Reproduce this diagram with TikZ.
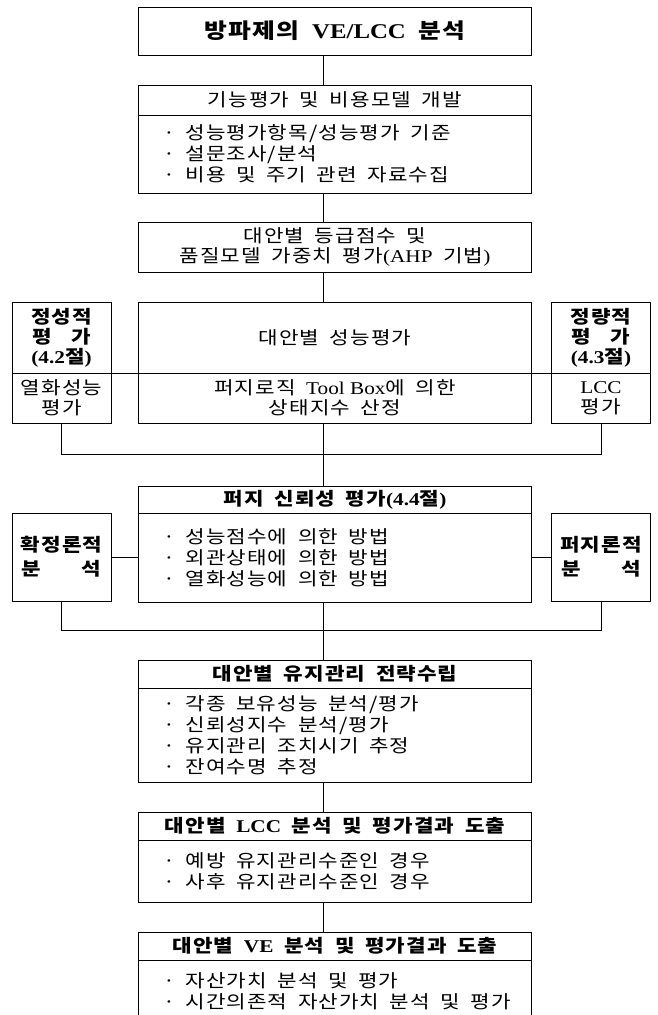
\documentclass[tikz,border=0pt]{standalone}
\usepackage{fontspec}
\setmainfont{Noto Sans CJK KR}[FakeStretch=1.18, LetterSpace=6, WordSpace=1.8]
\newfontfamily\latfont{Liberation Serif}[FakeStretch=1.18]
\usetikzlibrary{positioning}
\newcommand\lat[1]{{\latfont #1}}
\newcommand\itm{\makebox[32pt][c]{·}}
\tikzset{
  box/.style={
    draw, rectangle, line width=1pt,
    inner sep=0pt, outer sep=0pt, align=center,
    font=\fontsize{18}{20}\selectfont
  },
  ttl/.style={box, minimum width=393pt, minimum height=48pt, font=\fontsize{21}{24}\selectfont\bfseries},
  hdr/.style={box, minimum width=393pt, minimum height=28pt},
  bhdr/.style={hdr, font=\fontsize{18}{20}\selectfont\bfseries},
  items/.style={
    box, minimum width=393pt, text width=363pt, inner xsep=15pt,
    align=flush left, font=\fontsize{18}{21}\selectfont
  },
  side/.style={box, minimum width=99pt},
  bside/.style={side, font=\fontsize{18}{20}\selectfont\bfseries}
}

\begin{document}
\begin{tikzpicture}[x=1pt, y=-1pt]
  \useasboundingbox (0,0) rectangle (657,1015);
  \coordinate (spine) at (323,0);
  \coordinate (bar1) at (0,454);
  \coordinate (bar2) at (0,630);
  % main column
  \node[ttl] (head) at (335,31) {방파제의 \lat{VE/LCC} 분석};
  \node[hdr, minimum height=30pt] (func) at (335,100) {기능평가 및 비용모델 개발};
  \node[items, minimum height=78pt, below=0pt of func] (funcitems) {\itm 성능평가항목/성능평가 기준\\\itm 설문조사/분석\\\itm 비용 및 주기 관련 자료수집};
  \node[hdr, minimum height=50pt] (rank) at (335,247) {대안별 등급점수 및\\품질모델 가중치 평가\lat{(AHP} 기법\lat{)}};
  \node[hdr, minimum height=71pt] (perf) at (335,337.5) {대안별 성능평가};
  \node[hdr, minimum height=50pt, below=0pt of perf] (perfitems) {퍼지로직 \lat{Tool Box}에 의한\\상태지수 산정};
  % side boxes of the evaluation row
  \node[bside, minimum height=71pt] (qual) at (61.5,337.5) {정성적\\평\phantom{성}가\\\lat{(4.2}절\lat{)}};
  \node[side, minimum height=50pt, below=0pt of qual] (qualitems) {열화성능\\평가};
  \node[bside, minimum height=71pt] (quant) at (601,337.5) {정량적\\평\phantom{량}가\\\lat{(4.3}절\lat{)}};
  \node[side, minimum height=50pt, below=0pt of quant] (quantitems) {\lat{LCC}\\평가};
  \draw[line width=1pt] (qualitems.north east) -- (perfitems.north west) (perfitems.north east) -- (quantitems.north west);
  \draw[line width=1pt] (qualitems.south) |- (quantitems.south |- bar1) -- (quantitems.south);
  % fuzzy reliability
  \node[bhdr, minimum height=27pt] (fuzzy) at (335,499.5) {퍼지 신뢰성 평가\lat{(4.4}절\lat{)}};
  \node[items, minimum height=89pt, below=0pt of fuzzy] (fuzzyitems) {\itm 성능점수에 의한 방법\\\itm 외관상태에 의한 방법\\\itm 열화성능에 의한 방법};
  \node[bside, minimum height=88pt, font=\fontsize{18}{24}\selectfont\bfseries] (det) at (61.5,557) {확정론적\\분\phantom{정론}석};
  \node[bside, minimum height=88pt, font=\fontsize{18}{24}\selectfont\bfseries] (fuzan) at (601,557) {퍼지론적\\분\phantom{지론}석};
  \draw[line width=1pt] (det.east) -- (det.east -| fuzzyitems.west);
  \draw[line width=1pt] (fuzan.west) -- (fuzan.west -| fuzzyitems.east);
  \draw[line width=1pt] (det.south) |- (fuzan.south |- bar2) -- (fuzan.south);
  % maintenance, LCC, VE
  \node[bhdr] (maint) at (335,674) {대안별 유지관리 전략수립};
  \node[items, minimum height=94pt, below=0pt of maint] (maintitems) {\itm 각종 보유성능 분석/평가\\\itm 신뢰성지수 분석/평가\\\itm 유지관리 조치시기 추정\\\itm 잔여수명 추정};
  \node[bhdr] (lcc) at (335,826) {대안별 \lat{LCC} 분석 및 평가결과 도출};
  \node[items, minimum height=62pt, below=0pt of lcc] (lccitems) {\itm 예방 유지관리수준인 경우\\\itm 사후 유지관리수준인 경우};
  \node[bhdr] (ve) at (335,946) {대안별 \lat{VE} 분석 및 평가결과 도출};
  \node[items, minimum height=62pt, below=0pt of ve] (veitems) {\itm 자산가치 분석 및 평가\\\itm 시간의존적 자산가치 분석 및 평가};
  % spine
  \draw[line width=1pt] (head.south -| spine) -- (func.north -| spine);
  \draw[line width=1pt] (funcitems.south -| spine) -- (rank.north -| spine);
  \draw[line width=1pt] (rank.south -| spine) -- (perf.north -| spine);
  \draw[line width=1pt] (perfitems.south -| spine) -- (fuzzy.north -| spine);
  \draw[line width=1pt] (fuzzyitems.south -| spine) -- (maint.north -| spine);
  \draw[line width=1pt] (maintitems.south -| spine) -- (lcc.north -| spine);
  \draw[line width=1pt] (lccitems.south -| spine) -- (ve.north -| spine);
\end{tikzpicture}
\end{document}
